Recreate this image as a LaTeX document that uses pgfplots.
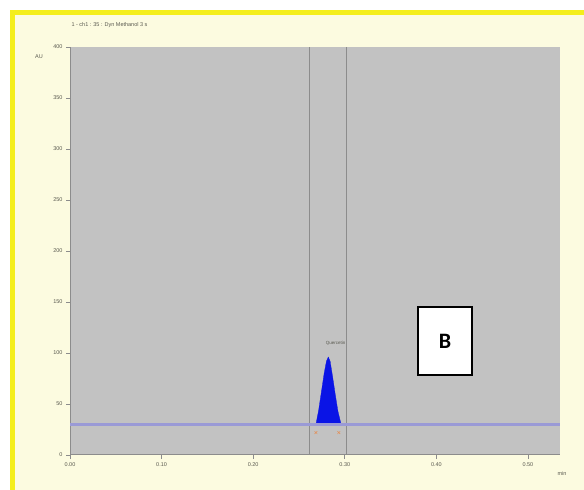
\documentclass[border=0pt]{standalone}
\usepackage{pgfplots}
\pgfplotsset{compat=1.18}
\usepackage{fontspec}
\setmainfont{Liberation Sans}
\newfontfamily\boxfont{Carlito}
\definecolor{frameyellow}{HTML}{F4EE1C}
\definecolor{panelcream}{HTML}{FCFBE0}
\definecolor{plotgray}{HTML}{C2C2C2}
\definecolor{baselinecol}{HTML}{9A9AD6}
\definecolor{peakblue}{HTML}{0A14E6}
\definecolor{cursorgray}{HTML}{8C8C8C}
\definecolor{ticktext}{HTML}{5A5A50}
\begin{document}
\begin{tikzpicture}[x=1pt,y=1pt]
  % page, yellow frame and cream panel (1 unit = 1 px)
  \useasboundingbox (0,0) rectangle (584,490);
  \fill[white] (0,0) rectangle (584,490);
  \fill[frameyellow] (10,0) rectangle (584,480);
  \fill[panelcream] (15,0) rectangle (584,475);
  % title
  \node[anchor=west, text=ticktext, font=\fontsize{5.5}{6}\selectfont] at (68,465) {1 - ch1 : 35 : Dyn Methanol 3 s};
  \node[text=ticktext, font=\fontsize{5.5}{6}\selectfont] at (39,433) {AU};
  \node[text=ticktext, font=\fontsize{5.5}{6}\selectfont] at (562,16) {min};

  \begin{axis}[
    at={(70pt,35pt)}, anchor=south west,
    width=490pt, height=408pt, scale only axis,
    xmin=0, xmax=0.535, ymin=0, ymax=400,
    axis background/.style={fill=plotgray},
    axis line style={cursorgray, line width=1pt},
    axis x line*=bottom, axis y line*=left,
    xtick={0,0.1,0.2,0.3,0.4,0.5},
    xticklabels={0.00,0.10,0.20,0.30,0.40,0.50},
    ytick={0,50,100,150,200,250,300,350,400},
    tick align=outside, tick style={cursorgray, line width=0.6pt},
    major tick length=4pt,
    tick label style={text=ticktext, font=\fontsize{5.5}{6}\selectfont},
    /pgf/number format/assume math mode=true,
    clip=true,
  ]
    % integration cursors
    \addplot[cursorgray, line width=0.8pt] coordinates {(0.261,0) (0.261,400)};
    \addplot[cursorgray, line width=0.8pt] coordinates {(0.302,0) (0.302,400)};
    % peak, filled down to the baseline
    \addplot[peakblue, fill=peakblue, line width=0.3pt] coordinates {
      (0.2685,30) (0.2715,44) (0.2745,62) (0.2775,80) (0.2800,92)
      (0.2820,96) (0.2840,92) (0.2865,78) (0.2895,60) (0.2925,43)
      (0.2960,30)} -- cycle;
    % baseline
    \addplot[baselinecol, line width=2.5pt] coordinates {(0,30) (0.535,30)};
    % peak start / end markers
    \addplot[only marks, mark=x, mark size=2pt, color=orange!80!red, opacity=0.6]
      coordinates {(0.2685,22) (0.2935,22)};
    \node[text=ticktext, font=\fontsize{4.5}{5}\selectfont] at (axis cs:0.290,110) {Quercetin};
  \end{axis}

  % panel letter
  \draw[black, line width=1.5pt, fill=white] (418,115) rectangle (472,183);
  \node[font=\boxfont\bfseries\fontsize{22}{24}\selectfont] at (445,149) {B};
\end{tikzpicture}
\end{document}
